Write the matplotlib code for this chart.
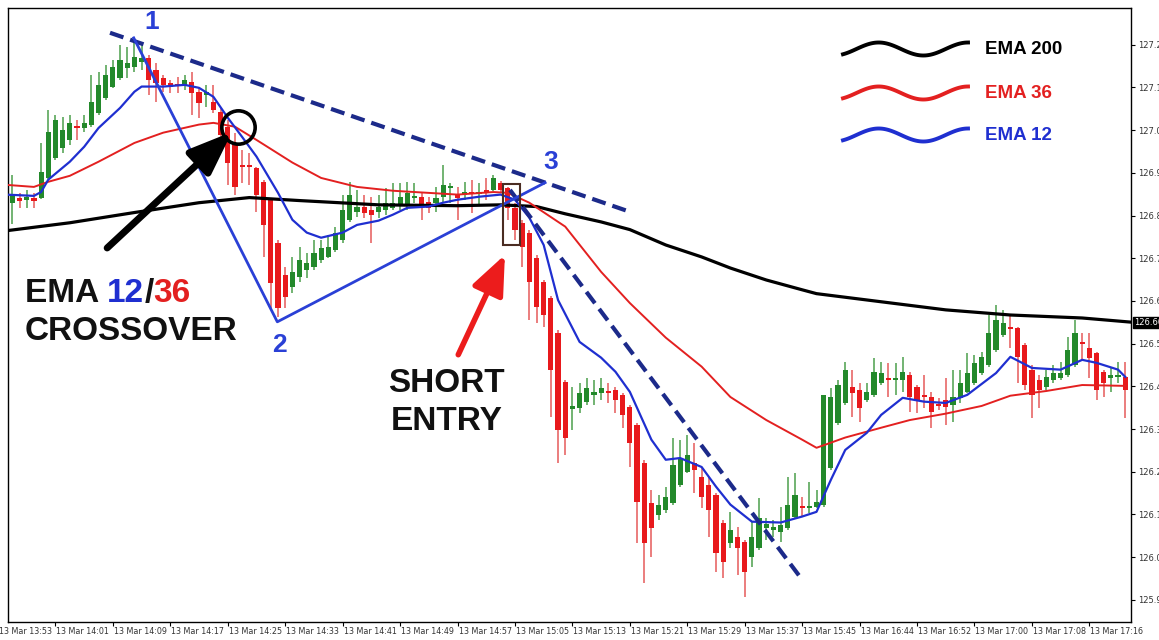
import numpy as np
import matplotlib
matplotlib.use("Agg")
import matplotlib.pyplot as plt
from matplotlib.patches import Rectangle
from matplotlib import transforms

# ---------------- data ----------------
first_bar = 2  # bar index of first visible candle (bar 0 = 13:53, 1-minute bars)

opens = [126.880, 126.892, 126.887, 126.892, 126.892, 126.938, 126.985, 127.009, 127.027, 127.060,
         127.055, 127.062, 127.091, 127.126, 127.152, 127.173, 127.196, 127.198, 127.210, 127.219,
         127.191, 127.173, 127.161, 127.159, 127.156, 127.163, 127.140, 127.133, 127.116, 127.093,
         127.058, 127.020, 126.969, 126.969, 126.962, 126.929, 126.887, 126.786, 126.711, 126.683,
         126.706, 126.723, 126.730, 126.746, 126.753, 126.770, 126.793, 126.840, 126.859, 126.871,
         126.863, 126.859, 126.863, 126.868, 126.875, 126.875, 126.892, 126.894, 126.882, 126.880,
         126.894, 126.915, 126.899, 126.899, 126.905, 126.901, 126.910, 126.910, 126.927, 126.915,
         126.868, 126.833, 126.810, 126.751, 126.695, 126.657, 126.575, 126.460, 126.397, 126.400,
         126.414, 126.430, 126.435, 126.439, 126.442, 126.430, 126.402, 126.360, 126.271, 126.177,
         126.149, 126.161, 126.177, 126.219, 126.250, 126.271, 126.238, 126.219, 126.196, 126.131,
         126.084, 126.098, 126.086, 126.051, 126.072, 126.119, 126.114, 126.109, 126.119, 126.145,
         126.170, 126.166, 126.168, 126.173, 126.259, 126.365, 126.411, 126.449, 126.442, 126.418,
         126.430, 126.458, 126.470, 126.465, 126.465, 126.477, 126.449, 126.430, 126.425, 126.409,
         126.418, 126.407, 126.423, 126.437, 126.458, 126.481, 126.500, 126.535, 126.571, 126.589,
         126.587, 126.547, 126.489, 126.465, 126.449, 126.465, 126.470, 126.477, 126.500, 126.554,
         126.540, 126.528, 126.484, 126.470, 126.472, 126.472]
highs = [126.945, 126.903, 126.910, 126.903, 127.020, 127.098, 127.086, 127.081, 127.086, 127.074,
         127.086, 127.180, 127.187, 127.203, 127.215, 127.250, 127.245, 127.262, 127.250, 127.226,
         127.208, 127.180, 127.168, 127.175, 127.180, 127.187, 127.152, 127.156, 127.156, 127.102,
         127.074, 127.044, 127.004, 126.997, 126.964, 126.934, 126.892, 126.793, 126.730, 126.753,
         126.777, 126.763, 126.793, 126.793, 126.805, 126.824, 126.899, 126.929, 126.910, 126.899,
         126.894, 126.899, 126.915, 126.927, 126.927, 126.929, 126.927, 126.903, 126.894, 126.917,
         126.969, 126.927, 126.917, 126.929, 126.934, 126.927, 126.938, 126.945, 126.931, 126.917,
         126.880, 126.840, 126.817, 126.758, 126.699, 126.662, 126.582, 126.465, 126.449, 126.458,
         126.470, 126.465, 126.470, 126.458, 126.449, 126.435, 126.407, 126.365, 126.278, 126.208,
         126.196, 126.215, 126.330, 126.325, 126.337, 126.318, 126.261, 126.238, 126.201, 126.138,
         126.156, 126.121, 126.091, 126.133, 126.189, 126.142, 126.138, 126.168, 126.238, 126.248,
         126.191, 126.227, 126.208, 126.430, 126.446, 126.465, 126.507, 126.489, 126.458, 126.458,
         126.517, 126.507, 126.505, 126.505, 126.519, 126.484, 126.453, 126.477, 126.437, 126.423,
         126.470, 126.489, 126.489, 126.528, 126.524, 126.531, 126.617, 126.641, 126.629, 126.617,
         126.589, 126.552, 126.500, 126.477, 126.489, 126.500, 126.507, 126.566, 126.606, 126.575,
         126.575, 126.531, 126.489, 126.493, 126.507, 126.507]
lows = [126.830, 126.868, 126.868, 126.868, 126.889, 126.936, 126.981, 126.997, 127.016, 127.027,
        127.046, 127.058, 127.086, 127.121, 127.149, 127.168, 127.173, 127.187, 127.191, 127.133,
        127.116, 127.140, 127.137, 127.137, 127.145, 127.086, 127.079, 127.104, 127.091, 127.027,
        126.922, 126.899, 126.927, 126.922, 126.859, 126.753, 126.634, 126.613, 126.634, 126.669,
        126.695, 126.704, 126.723, 126.739, 126.751, 126.765, 126.786, 126.835, 126.847, 126.845,
        126.786, 126.845, 126.852, 126.863, 126.863, 126.863, 126.880, 126.840, 126.856, 126.859,
        126.880, 126.880, 126.840, 126.887, 126.856, 126.875, 126.887, 126.908, 126.903, 126.840,
        126.793, 126.730, 126.606, 126.599, 126.589, 126.379, 126.271, 126.290, 126.348, 126.388,
        126.407, 126.407, 126.418, 126.411, 126.388, 126.353, 126.261, 126.084, 125.990, 126.051,
        126.138, 126.154, 126.173, 126.215, 126.248, 126.201, 126.166, 126.098, 126.015, 126.002,
        126.072, 126.009, 125.957, 126.027, 126.067, 126.091, 126.098, 126.086, 126.114, 126.142,
        126.145, 126.154, 126.166, 126.168, 126.254, 126.360, 126.407, 126.379, 126.367, 126.414,
        126.425, 126.453, 126.425, 126.430, 126.437, 126.390, 126.388, 126.400, 126.353, 126.395,
        126.360, 126.367, 126.411, 126.435, 126.453, 126.477, 126.496, 126.531, 126.566, 126.540,
        126.458, 126.442, 126.376, 126.400, 126.442, 126.458, 126.465, 126.472, 126.496, 126.512,
        126.470, 126.418, 126.425, 126.437, 126.458, 126.376]
closes = [126.899, 126.885, 126.894, 126.885, 126.953, 127.046, 127.074, 127.051, 127.067, 127.055,
          127.067, 127.116, 127.156, 127.180, 127.198, 127.215, 127.208, 127.222, 127.219, 127.168,
          127.161, 127.156, 127.152, 127.154, 127.168, 127.137, 127.114, 127.140, 127.098, 127.039,
          126.974, 126.917, 126.964, 126.964, 126.899, 126.828, 126.692, 126.634, 126.660, 126.718,
          126.746, 126.739, 126.763, 126.774, 126.777, 126.810, 126.863, 126.899, 126.871, 126.856,
          126.852, 126.871, 126.880, 126.880, 126.894, 126.903, 126.896, 126.875, 126.868, 126.892,
          126.922, 126.920, 126.892, 126.905, 126.901, 126.905, 126.905, 126.938, 126.910, 126.868,
          126.817, 126.777, 126.695, 126.636, 126.617, 126.489, 126.348, 126.330, 126.404, 126.435,
          126.446, 126.437, 126.446, 126.435, 126.418, 126.383, 126.318, 126.180, 126.084, 126.119,
          126.173, 126.191, 126.266, 126.282, 126.290, 126.254, 126.191, 126.161, 126.060, 126.039,
          126.114, 126.072, 126.015, 126.098, 126.142, 126.128, 126.121, 126.126, 126.173, 126.196,
          126.166, 126.170, 126.180, 126.430, 126.425, 126.453, 126.489, 126.435, 126.400, 126.437,
          126.484, 126.481, 126.465, 126.470, 126.484, 126.425, 126.418, 126.425, 126.390, 126.404,
          126.402, 126.425, 126.458, 126.481, 126.505, 126.519, 126.575, 126.606, 126.599, 126.585,
          126.519, 126.453, 126.430, 126.442, 126.472, 126.481, 126.481, 126.535, 126.575, 126.549,
          126.517, 126.442, 126.458, 126.477, 126.477, 126.442]

time_labels = ["13 Mar 13:53", "13 Mar 14:01", "13 Mar 14:09", "13 Mar 14:17", "13 Mar 14:25",
               "13 Mar 14:33", "13 Mar 14:41", "13 Mar 14:49", "13 Mar 14:57", "13 Mar 15:05",
               "13 Mar 15:13", "13 Mar 15:21", "13 Mar 15:29", "13 Mar 15:37", "13 Mar 15:45",
               "13 Mar 16:44", "13 Mar 16:52", "13 Mar 17:00", "13 Mar 17:08", "13 Mar 17:16"]
bars_per_label = 8

price_ticks = [125.95, 126.05, 126.15, 126.25, 126.35, 126.45, 126.55, 126.65,
               126.75, 126.85, 126.95, 127.05, 127.15, 127.25]
current_price = 126.60

ema200_bars = [1, 10, 19, 28, 35, 42, 53, 64, 70, 75, 79, 84, 88, 93, 98, 102, 107, 112, 114,
               123, 132, 141, 151, 158]
ema200_vals = [126.814, 126.833, 126.857, 126.880, 126.892, 126.885, 126.875, 126.873, 126.875,
               126.871, 126.854, 126.835, 126.817, 126.781, 126.753, 126.727, 126.699, 126.676,
               126.667, 126.648, 126.629, 126.617, 126.610, 126.600]

ema36_bars = [1, 5, 7, 10, 14, 19, 23, 28, 30, 33, 36, 41, 45, 50, 55, 60, 64, 69, 71, 74, 79,
              84, 88, 93, 98, 102, 107, 112, 114, 118, 123, 127, 132, 137, 141, 146, 151, 157]
ema36_vals = [126.922, 126.917, 126.929, 126.943, 126.976, 127.020, 127.044, 127.063, 127.067,
              127.058, 127.027, 126.974, 126.938, 126.917, 126.908, 126.903, 126.899, 126.905,
              126.903, 126.880, 126.824, 126.718, 126.645, 126.564, 126.496, 126.425, 126.371,
              126.325, 126.306, 126.330, 126.353, 126.371, 126.386, 126.404, 126.428, 126.439,
              126.453, 126.451]

ema12_bars = [1, 5, 6, 7, 10, 12, 14, 17, 19, 20, 23, 26, 28, 30, 32, 34, 36, 39, 41, 43, 45,
              48, 50, 53, 55, 57, 60, 62, 64, 67, 70, 72, 74, 76, 78, 81, 84, 86, 88, 91, 93,
              95, 98, 100, 102, 105, 109, 112, 114, 116, 118, 121, 123, 126, 129, 132, 135,
              139, 141, 144, 148, 151, 153, 156, 157]
ema12_vals = [126.899, 126.896, 126.905, 126.934, 126.976, 127.011, 127.055, 127.102, 127.140,
              127.152, 127.152, 127.156, 127.149, 127.128, 127.079, 127.034, 126.988, 126.903,
              126.840, 126.810, 126.798, 126.810, 126.828, 126.838, 126.852, 126.868, 126.871,
              126.880, 126.887, 126.894, 126.899, 126.887, 126.845, 126.781, 126.652, 126.554,
              126.517, 126.484, 126.437, 126.325, 126.278, 126.282, 126.261, 126.215, 126.173,
              126.133, 126.131, 126.145, 126.156, 126.231, 126.301, 126.341, 126.383, 126.423,
              126.414, 126.411, 126.430, 126.481, 126.519, 126.493, 126.489, 126.512, 126.505,
              126.489, 126.472]

# annotation anchor points (bar index, price)
wave_pts = {"1": (18.9, 127.266), "2": (38.9, 126.601), "3": (76.2, 126.927)}
upper_trend = [(15.6, 127.278), (88.3, 126.857)]
lower_trend = [(71.3, 126.910), (112.0, 125.997)]

# ---------------- figure ----------------
W, H = 1159, 640
fig = plt.figure(figsize=(W / 100, H / 100), dpi=100)
ax = fig.add_axes([8 / W, 18 / H, 1123 / W, 614 / H])
ax.set_xlim(1.39, 157.8)
ax.set_ylim(125.898, 127.336)

GREEN = "#23892b"
RED = "#e8191c"
GREEN_W = "#4c9f4c"
RED_W = "#e65a5a"

o = np.array(opens)
h = np.array(highs)
l = np.array(lows)
c = np.array(closes)
x = first_bar + np.arange(len(o))
up = c >= o
body_lo = np.minimum(o, c)
body_h = np.maximum(np.abs(c - o), 0.004)

ax.vlines(x[up], l[up], h[up], color=GREEN_W, lw=1.1, zorder=2)
ax.vlines(x[~up], l[~up], h[~up], color=RED_W, lw=1.1, zorder=2)
ax.bar(x[up], body_h[up], bottom=body_lo[up], width=0.72, color=GREEN, lw=0, zorder=3)
ax.bar(x[~up], body_h[~up], bottom=body_lo[~up], width=0.72, color=RED, lw=0, zorder=3)

# EMAs
ax.plot(ema200_bars, ema200_vals, color="black", lw=2.3, zorder=4, solid_capstyle="round")
ax.plot(ema36_bars, ema36_vals, color="#e32020", lw=1.4, zorder=4)
ax.plot(ema12_bars, ema12_vals, color="#1f2fd0", lw=1.6, zorder=5)

# trend lines
NAVY = "#1c2a8a"
BLUE = "#2a40d6"
ax.plot(*zip(*upper_trend), color=NAVY, lw=3.0, ls=(0, (3.4, 1.7)), zorder=6)
ax.plot(*zip(*lower_trend), color=NAVY, lw=3.0, ls=(0, (3.4, 1.7)), zorder=6)
p1, p2, p3 = wave_pts["1"], wave_pts["2"], wave_pts["3"]
ax.plot([p1[0], p2[0], p3[0]], [p1[1], p2[1], p3[1]], color=BLUE, lw=2.0, zorder=6)

for lab, (dx, dy) in {"1": (2.5, 0.038), "2": (0.3, -0.054), "3": (0.8, 0.049)}.items():
    bx, by = wave_pts[lab]
    ax.text(bx + dx, by + dy, lab, color=BLUE, fontsize=19, fontweight="bold",
            family="Liberation Sans", ha="center", va="center", zorder=7)

# crossover circle & arrow
ax.plot(33.4, 127.058, "o", ms=24, mfc="none", mec="black", mew=2.6, zorder=8)
ax.annotate("", xy=(32.6, 127.046), xytext=(15.2, 126.774),
            arrowprops=dict(arrowstyle="-|>,head_length=1.3,head_width=0.5", lw=5,
                            color="black", mutation_scale=20, shrinkA=0, shrinkB=0), zorder=8)
# short entry box & arrow
ax.add_patch(Rectangle((70.3, 126.781), 2.4, 0.142, fill=False, ec="#4a2c22", lw=1.5, zorder=8))
ax.annotate("", xy=(70.6, 126.758), xytext=(64.1, 126.524),
            arrowprops=dict(arrowstyle="-|>,head_length=1.2,head_width=0.5", lw=4,
                            color="#ec1c1c", mutation_scale=20, shrinkA=0, shrinkB=0), zorder=8)

big = dict(fontsize=24, fontweight="bold", family="Liberation Sans", zorder=9)
ax.text(62.5, 126.437, "SHORT", ha="center", va="baseline", color="#111111", **big)
ax.text(62.5, 126.348, "ENTRY", ha="center", va="baseline", color="#111111", **big)
ax.text(3.76, 126.559, "CROSSOVER", ha="left", va="baseline", color="#111111", **big)

# multi-coloured "EMA 12/36"
fig.canvas.draw()
renderer = fig.canvas.get_renderer()
trans = ax.transData
for s, col in [("EMA ", "#111111"), ("12", "#1f2fd0"), ("/", "#111111"), ("36", "#e32020")]:
    t = ax.text(3.76, 126.648, s, color=col, transform=trans, ha="left", va="baseline", **big)
    t.draw(renderer)
    ex = t.get_window_extent(renderer)
    trans = transforms.offset_copy(t.get_transform(), fig=fig, x=ex.width, units="dots")

# legend (top right) with wavy samples
def fx(px):
    return (px - 8) / 1123
def fy(py):
    return (622 - py) / 614
tt = np.linspace(-0.3 * np.pi, 2.5 * np.pi, 80)
xs = fx(843 + (tt - tt[0]) / (tt[-1] - tt[0]) * 125)
for (label, col, cy) in [("EMA 200", "black", 49), ("EMA 36", "#e32020", 93), ("EMA 12", "#1f2fd0", 135)]:
    ys = fy(cy - 6.5 * np.sin(tt))
    ax.plot(xs, ys, transform=ax.transAxes, color=col, lw=2.8, zorder=9)
    ax.text(fx(985), fy(cy), label, transform=ax.transAxes, color=col, fontsize=13.5,
            fontweight="bold", family="Liberation Sans", ha="left", va="center", zorder=9)

# axes styling
for sp in ax.spines.values():
    sp.set_color("black")
    sp.set_linewidth(1.0)
ax.yaxis.tick_right()
ax.set_yticks(price_ticks)
ax.set_yticklabels([f"{v:.2f}" for v in price_ticks], fontsize=6, color="#333333")
ax.tick_params(axis="y", length=3, pad=2, width=0.8)

tick_pos = [k * bars_per_label for k in range(len(time_labels))]
ax.set_xticks([p for p in tick_pos if p >= 1.39])
ax.set_xticklabels([])
ax.tick_params(axis="x", length=3, width=0.8, direction="out")
xt = transforms.blended_transform_factory(ax.transData, ax.transAxes)
for p, lab in zip(tick_pos, time_labels):
    ax.text(p, -0.015, lab, transform=transforms.offset_copy(xt, fig=fig, x=1, units="dots"),
            fontsize=5.8, color="#333333", ha="left", va="center", clip_on=False)

ax.text(1.003, ax.transAxes.inverted().transform(ax.transData.transform((0, current_price)))[1],
        f"{current_price:.2f}", transform=ax.transAxes, fontsize=6, color="white",
        ha="left", va="center", clip_on=False,
        bbox=dict(boxstyle="square,pad=0.15", fc="black", ec="black"), zorder=10)

fig.savefig("out.png", dpi=100)
